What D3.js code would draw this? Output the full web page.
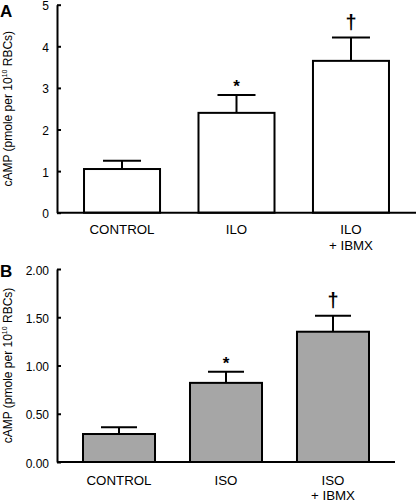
<!DOCTYPE html>
<html><head><meta charset="utf-8">
<script src="https://cdn.jsdelivr.net/npm/d3@7"></script>
<style>body{margin:0;background:#fff} svg{display:block} text{font-family:"Liberation Sans",Arial,sans-serif;fill:#000}</style>
</head><body><svg id="c" width="420" height="501"></svg>
<script>
// Panel A data
const categoriesA = ["CONTROL", "ILO", "ILO\n+ IBMX"];
const meansA = [1.05, 2.40, 3.65];
const errorsA = [0.20, 0.43, 0.56];
const marksA = ["", "*", "†"];
const ticksA = [0, 1, 2, 3, 4, 5];
const tickLabelsA = ["0", "1", "2", "3", "4", "5"];
// Panel B data
const categoriesB = ["CONTROL", "ISO", "ISO\n+ IBMX"];
const meansB = [0.29, 0.82, 1.35];
const errorsB = [0.07, 0.115, 0.165];
const marksB = ["", "*", "†"];
const ticksB = [0, 0.5, 1.0, 1.5, 2.0];
const tickLabelsB = ["0.00", "0.50", "1.00", "1.50", "2.00"];

const svg = d3.select("#c");

function panel(o) {
  const g = svg.append("g");
  const x = d3.scaleBand().domain(o.cats).range([o.x0, o.x1])
    .paddingInner(o.pi).paddingOuter(o.po);
  const y = d3.scaleLinear().domain([0, o.max]).range([o.yb, o.yt]);
  const data = o.cats.map((c, i) => ({c, m: o.means[i], e: o.errs[i], k: o.marks[i]}));

  // y axis
  const ax = d3.axisLeft(y).tickValues(o.ticks)
    .tickFormat((d, i) => o.tickLabels[i]).tickSize(-4).tickPadding(8).tickSizeOuter(0);
  const ag = g.append("g").attr("transform", `translate(${o.x0},0)`).call(ax);
  ag.select(".domain").attr("stroke", "#000").attr("stroke-width", 2);
  ag.selectAll(".tick line").attr("stroke", "#000").attr("stroke-width", 2);
  ag.selectAll(".tick text").attr("font-size", 12).attr("dy", "0.42em")
    .attr("font-family", '"Liberation Sans",Arial,sans-serif').attr("fill", "#000");

  // error bars
  const bw = x.bandwidth();
  g.selectAll(".ev").data(data).join("line")
    .attr("x1", d => x(d.c) + bw / 2).attr("x2", d => x(d.c) + bw / 2)
    .attr("y1", d => y(d.m)).attr("y2", d => y(d.m + d.e))
    .attr("stroke", "#000").attr("stroke-width", 2);
  g.selectAll(".ec").data(data).join("line")
    .attr("x1", d => x(d.c) + bw / 4).attr("x2", d => x(d.c) + bw * 3 / 4)
    .attr("y1", d => y(d.m + d.e)).attr("y2", d => y(d.m + d.e))
    .attr("stroke", "#000").attr("stroke-width", 2);

  // bars
  g.selectAll(".bar").data(data).join("rect")
    .attr("x", d => x(d.c)).attr("width", bw)
    .attr("y", d => y(d.m)).attr("height", d => y(0) - y(d.m))
    .attr("fill", o.fill).attr("stroke", "#000").attr("stroke-width", 2);

  // baseline
  g.append("line").attr("x1", o.x0).attr("x2", o.x1)
    .attr("y1", y(0)).attr("y2", y(0)).attr("stroke", "#000").attr("stroke-width", 2);

  // significance marks
  data.forEach(d => {
    if (!d.k) return;
    const cx = x(d.c) + bw / 2, cy = y(d.m + d.e);
    if (d.k === "*") {
      g.append("text").attr("x", cx).attr("y", cy - 3).attr("text-anchor", "middle")
        .attr("font-size", 17).attr("font-weight", "bold").text("*");
    } else {
      g.append("text").attr("x", cx).attr("y", cy - 9).attr("text-anchor", "middle")
        .attr("font-size", 20).attr("font-weight", "bold").text("†");
    }
  });

  // category labels
  data.forEach(d => {
    const lines = d.c.split("\n");
    const t = g.append("text").attr("text-anchor", "middle").attr("font-size", 13.3)
      .attr("x", x(d.c) + bw / 2).attr("y", y(0) + o.labelOff);
    lines.forEach((l, i) => t.append("tspan").attr("x", x(d.c) + bw / 2)
      .attr("dy", i === 0 ? 0 : o.lineGap).text(l));
  });

  // y label
  const yl = g.append("text").attr("font-size", 12)
    .attr("transform", `translate(12,${(o.yb + o.yt) / 2}) rotate(-90)`)
    .attr("text-anchor", "middle");
  yl.append("tspan").text("cAMP (pmole per 10");
  yl.append("tspan").attr("font-size", 7).attr("dy", -5).text("10");
  yl.append("tspan").attr("dy", 5).text(" RBCs)");

  // panel letter
  g.append("text").attr("x", 0).attr("y", o.letterY).attr("font-size", 17)
    .attr("font-weight", "bold").text(o.letter);
}

panel({cats: categoriesA, means: meansA, errs: errorsA, marks: marksA,
  ticks: ticksA, tickLabels: tickLabelsA, max: 5,
  x0: 57, x1: 416, yb: 212.7, yt: 4.7, pi: 0.336, po: 0.236,
  fill: "#fff", labelOff: 21, lineGap: 16, letter: "A", letterY: 16.5});
panel({cats: categoriesB, means: meansB, errs: errorsB, marks: marksB,
  ticks: ticksB, tickLabels: tickLabelsB, max: 2,
  x0: 57, x1: 395, yb: 462, yt: 269, pi: 0.327, po: 0.243,
  fill: "#a6a6a6", labelOff: 22.5, lineGap: 15, letter: "B", letterY: 276.5});
</script></body></html>
